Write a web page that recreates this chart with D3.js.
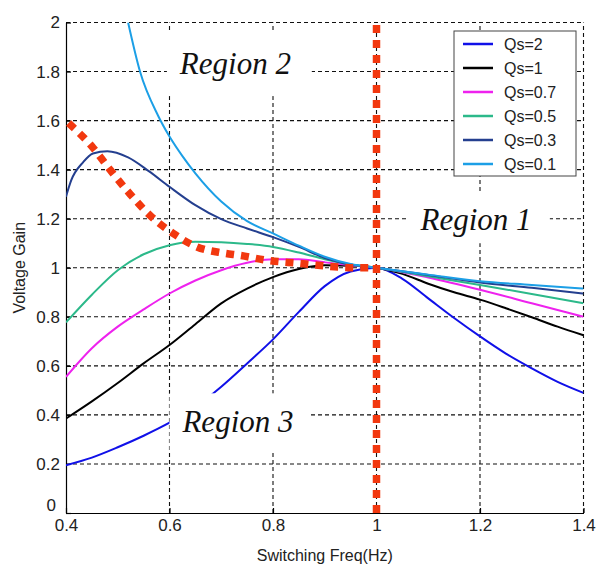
<!DOCTYPE html>
<html>
<head>
<meta charset="utf-8">
<script src="https://cdn.jsdelivr.net/npm/d3@7"></script>
<style>
  body { margin: 0; background: #fff; }
  svg text { font-family: "Liberation Sans", Arial, sans-serif; }
</style>
</head>
<body>
<div id="chart"></div>
<script>
// Data: [switching freq, voltage gain]
const qs2 = [[0.40,0.195],[0.45,0.226],[0.50,0.268],[0.55,0.315],[0.60,0.368],[0.65,0.432],[0.70,0.515],[0.75,0.61],[0.80,0.708],[0.85,0.82],[0.90,0.925],[0.95,0.985],[1.0,1.0],[1.05,0.955],[1.10,0.875],[1.15,0.795],[1.20,0.72],[1.25,0.65],[1.30,0.59],[1.35,0.535],[1.40,0.49]];
const qs1 = [[0.40,0.385],[0.45,0.455],[0.50,0.53],[0.55,0.61],[0.60,0.685],[0.65,0.77],[0.70,0.855],[0.75,0.915],[0.80,0.962],[0.85,0.995],[0.90,1.01],[0.95,1.008],[1.0,1.0],[1.05,0.975],[1.10,0.935],[1.15,0.90],[1.20,0.87],[1.25,0.835],[1.30,0.798],[1.35,0.76],[1.40,0.725]];
const qs07 = [[0.40,0.555],[0.45,0.672],[0.50,0.76],[0.55,0.83],[0.60,0.895],[0.65,0.948],[0.70,0.99],[0.75,1.02],[0.80,1.035],[0.85,1.035],[0.90,1.022],[0.95,1.01],[1.0,1.0],[1.1,0.96],[1.2,0.91],[1.3,0.855],[1.4,0.80]];
const qs05 = [[0.40,0.777],[0.45,0.89],[0.50,0.99],[0.55,1.055],[0.60,1.092],[0.65,1.106],[0.70,1.104],[0.75,1.097],[0.80,1.085],[0.85,1.062],[0.90,1.035],[0.95,1.013],[1.0,1.0],[1.1,0.965],[1.2,0.93],[1.3,0.893],[1.4,0.855]];
const qs03 = [[0.40,1.29],[0.41,1.356],[0.433,1.43],[0.452,1.466],[0.48,1.475],[0.52,1.45],[0.56,1.394],[0.60,1.33],[0.65,1.255],[0.70,1.198],[0.75,1.16],[0.80,1.125],[0.85,1.085],[0.90,1.04],[0.95,1.013],[1.0,1.0],[1.1,0.97],[1.2,0.94],[1.3,0.918],[1.4,0.895]];
const qs01 = [[0.52,2.0],[0.543,1.80],[0.578,1.62],[0.60,1.535],[0.625,1.455],[0.65,1.385],[0.70,1.27],[0.75,1.19],[0.80,1.14],[0.85,1.09],[0.90,1.045],[0.95,1.015],[1.0,1.0],[1.1,0.972],[1.2,0.945],[1.3,0.93],[1.4,0.915]];
const boundary = [[0.405,1.59],[0.452,1.49],[0.485,1.40],[0.524,1.30],[0.562,1.214],[0.607,1.14],[0.653,1.085],[0.704,1.06],[0.737,1.05],[0.79,1.03],[0.85,1.018],[0.907,1.006],[0.965,1.0],[1.0,1.0]];
const resonance = [[1.0,0],[1.0,2]];

const seriesNames = ["Qs=2", "Qs=1", "Qs=0.7", "Qs=0.5", "Qs=0.3", "Qs=0.1"];
const seriesData = [qs2, qs1, qs07, qs05, qs03, qs01];
const seriesColors = ["#1010e8", "#000000", "#ee22ee", "#2cb98a", "#243f8f", "#1c9fe6"];

const xTicks = [0.4, 0.6, 0.8, 1.0, 1.2, 1.4];
const yTicks = [0, 0.2, 0.4, 0.6, 0.8, 1.0, 1.2, 1.4, 1.6, 1.8, 2.0];

const regionLabels = [
  { text: "Region 2", f: 0.62, g: 1.79, box: [0.595, 1.96, 0.875, 1.70] },
  { text: "Region 1", f: 1.085, g: 1.155, box: [1.06, 1.31, 1.335, 1.10] },
  { text: "Region 3", f: 0.625, g: 0.33, box: [0.60, 0.488, 0.868, 0.255] }
];

const width = 596, height = 565;
const margin = { top: 22.5, right: 12.5, bottom: 52, left: 66 };

const svg = d3.select("#chart").append("svg")
  .attr("width", width)
  .attr("height", height);

const x = d3.scaleLinear().domain([0.4, 1.4]).range([margin.left, width - margin.right]);
const y = d3.scaleLinear().domain([0, 2]).range([height - margin.bottom, margin.top]);

svg.append("clipPath").attr("id", "plot-clip")
  .append("rect")
  .attr("x", x(0.4)).attr("y", y(2))
  .attr("width", x(1.4) - x(0.4)).attr("height", y(0) - y(2));

// Grid
const grid = svg.append("g")
  .attr("stroke", "#111")
  .attr("stroke-width", 1.1)
  .attr("stroke-dasharray", "4,3");

grid.selectAll("line.v")
  .data(xTicks.slice(1))
  .join("line")
  .attr("x1", d => x(d)).attr("x2", d => x(d))
  .attr("y1", y(0)).attr("y2", y(2));

grid.selectAll("line.h")
  .data(yTicks.slice(1))
  .join("line")
  .attr("x1", x(0.4)).attr("x2", x(1.4))
  .attr("y1", d => y(d)).attr("y2", d => y(d));

// Axes
const fmt = d => String(+d.toFixed(1));

const xAxis = svg.append("g")
  .attr("transform", `translate(0,${y(0)})`)
  .call(d3.axisBottom(x).tickValues(xTicks).tickSize(-5).tickSizeOuter(0).tickPadding(6).tickFormat(fmt));

const yAxis = svg.append("g")
  .attr("transform", `translate(${x(0.4)},0)`)
  .call(d3.axisLeft(y).tickValues(yTicks).tickSize(-5).tickSizeOuter(0).tickPadding(6).tickFormat(fmt));

[xAxis, yAxis].forEach(a => {
  a.selectAll("path, line").attr("stroke", "#000").attr("stroke-width", 1.2);
  a.selectAll("text").style("font-size", "17px").attr("fill", "#222");
});

// the "0" label sits just above-left of "0.4", as in the original
yAxis.selectAll(".tick text").filter(d => d === 0).attr("dy", "-0.12em").attr("x", -10);

svg.append("text")
  .attr("x", (x(0.4) + x(1.4)) / 2)
  .attr("y", 561)
  .attr("text-anchor", "middle")
  .style("font-size", "16px")
  .attr("fill", "#222")
  .text("Switching Freq(Hz)");

svg.append("text")
  .attr("transform", `translate(25,${(y(0) + y(2)) / 2}) rotate(-90)`)
  .attr("text-anchor", "middle")
  .style("font-size", "16px")
  .attr("fill", "#222")
  .text("Voltage Gain");

// Curves
const line = d3.line()
  .x(d => x(d[0]))
  .y(d => y(d[1]))
  .curve(d3.curveMonotoneX);

const plot = svg.append("g").attr("clip-path", "url(#plot-clip)");

plot.selectAll("path.series")
  .data(seriesData)
  .join("path")
  .attr("class", "series")
  .attr("fill", "none")
  .attr("stroke", (d, i) => seriesColors[i])
  .attr("stroke-width", 2)
  .attr("d", line);

plot.append("path")
  .datum(boundary)
  .attr("fill", "none")
  .attr("stroke", "#f2380f")
  .attr("stroke-width", 7.5)
  .attr("stroke-dasharray", "8,7")
  .attr("d", line);

plot.append("path")
  .datum(resonance)
  .attr("fill", "none")
  .attr("stroke", "#f2380f")
  .attr("stroke-width", 7.5)
  .attr("stroke-dasharray", "8,7")
  .attr("d", d3.line().x(d => x(d[0])).y(d => y(d[1])));

// Region labels (with white backing like the original)
const regions = svg.append("g");
regionLabels.forEach(r => {
  regions.append("rect")
    .attr("x", x(r.box[0])).attr("y", y(r.box[1]))
    .attr("width", x(r.box[2]) - x(r.box[0]))
    .attr("height", y(r.box[3]) - y(r.box[1]))
    .attr("fill", "#fff");
  regions.append("text")
    .attr("x", x(r.f)).attr("y", y(r.g))
    .style("font-family", "'Liberation Serif', 'Times New Roman', serif")
    .style("font-style", "italic")
    .style("font-size", "31px")
    .attr("fill", "#111")
    .text(r.text);
});

// Legend
const legend = svg.append("g").attr("transform", "translate(454,31)");
legend.append("rect")
  .attr("width", 122).attr("height", 145)
  .attr("fill", "#fff")
  .attr("stroke", "#444")
  .attr("stroke-width", 1);

const item = legend.selectAll("g.item")
  .data(seriesNames)
  .join("g")
  .attr("class", "item")
  .attr("transform", (d, i) => `translate(0,${13 + i * 24})`);

item.append("line")
  .attr("x1", 9).attr("x2", 39)
  .attr("stroke", (d, i) => seriesColors[i])
  .attr("stroke-width", 2.5);

item.append("text")
  .attr("x", 50).attr("dy", "0.35em")
  .style("font-size", "16px")
  .attr("fill", "#222")
  .text(d => d);
</script>
</body>
</html>
